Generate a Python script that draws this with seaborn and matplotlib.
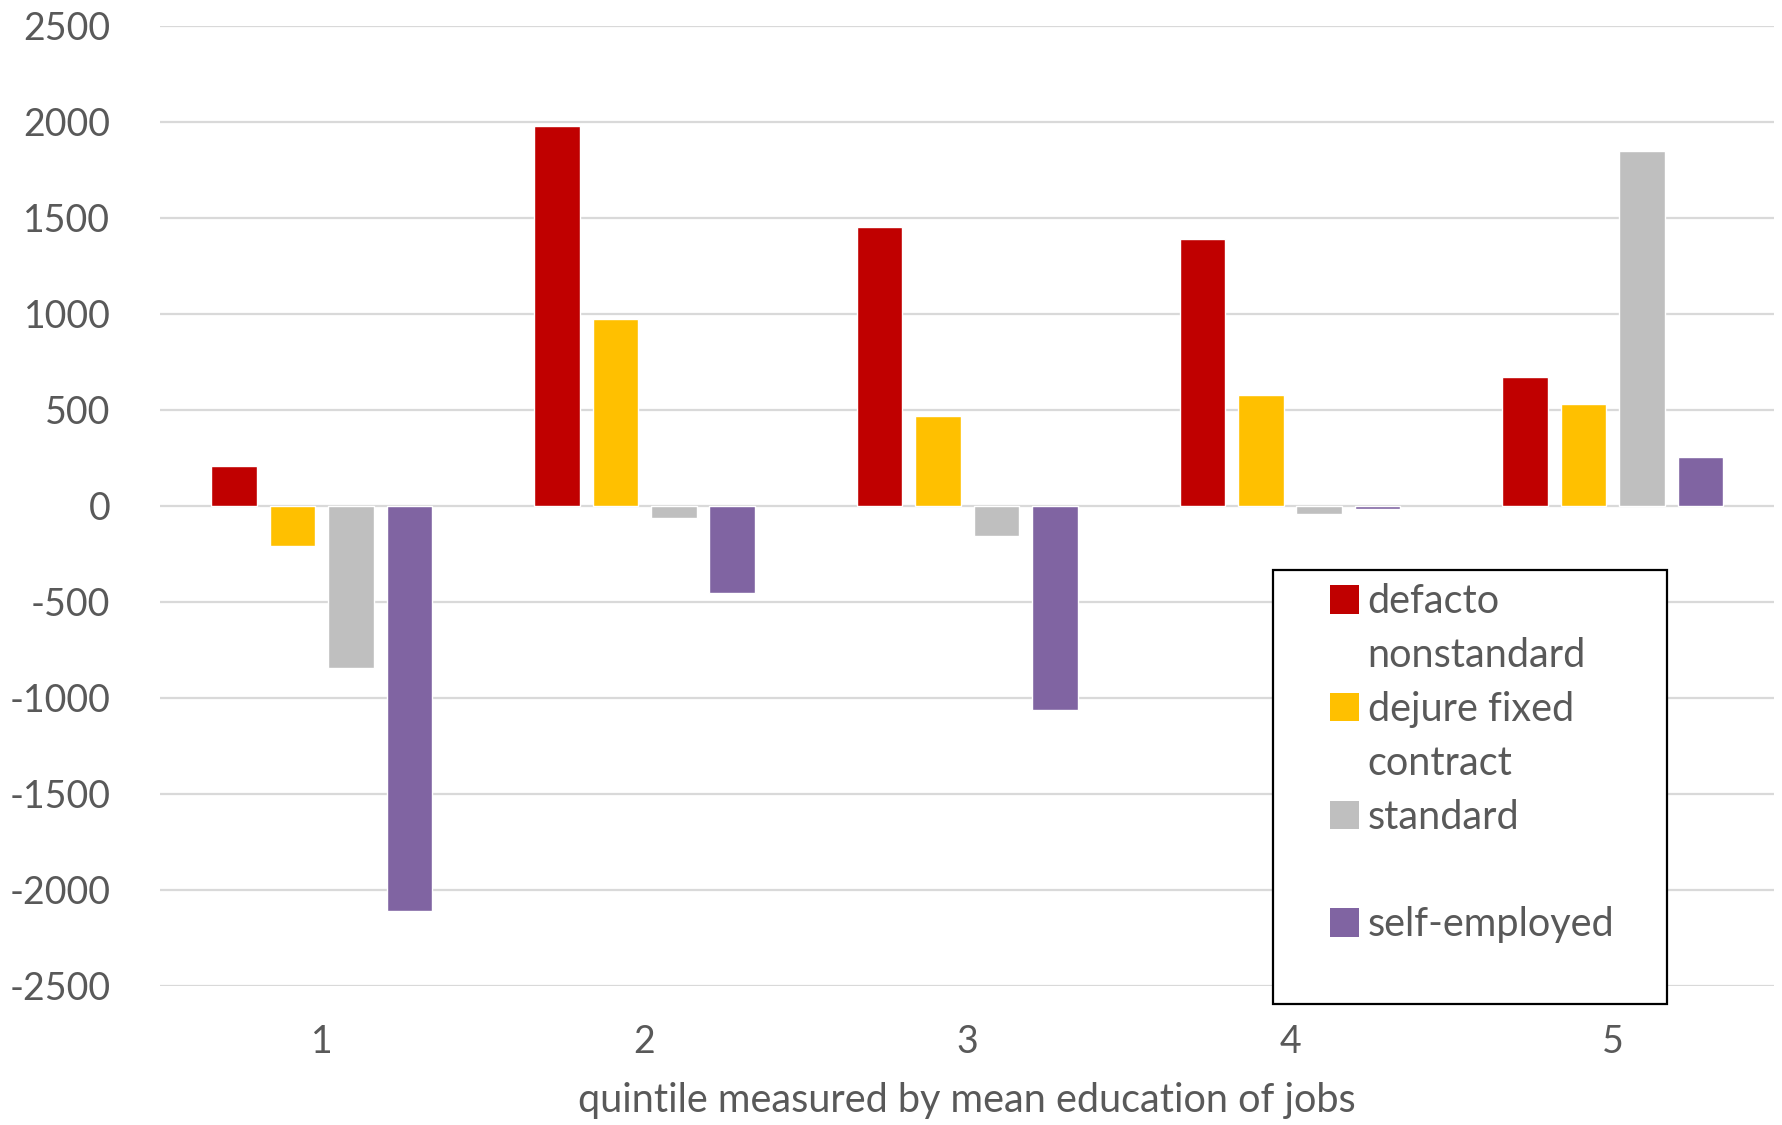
import pandas as pd
import seaborn as sns
import matplotlib.pyplot as plt
from matplotlib.patches import Patch, Rectangle

quintiles = ["1", "2", "3", "4", "5"]
series_names = ["defacto nonstandard", "dejure fixed contract", "standard", "self-employed"]
defacto = [207, 1978, 1454, 1392, 670]
dejure = [-211, 973, 467, 576, 530]
standard = [-844, -62, -156, -44, 1846]
self_employed = [-2110, -453, -1065, -16, 255]
colors = ["#C00000", "#FFC000", "#BFBFBF", "#8064A2"]
yticks = [-2500, -2000, -1500, -1000, -500, 0, 500, 1000, 1500, 2000, 2500]

sns.set_theme(style="white")
plt.rcParams["font.family"] = ["Lato", "DejaVu Sans"]
txt = "#595959"
fontsize = 27

rows = []
for name, vals in zip(series_names, [defacto, dejure, standard, self_employed]):
    for q, v in zip(quintiles, vals):
        rows.append({"quintile": q, "type": name, "value": v})
df = pd.DataFrame(rows)

fig = plt.figure(figsize=(17.83, 11.25), dpi=100)
ax = fig.add_axes([0.090, 0.124, 0.905, 0.853])

sns.barplot(data=df, x="quintile", y="value", hue="type", hue_order=series_names,
            palette=colors, width=0.724, gap=0.22, saturation=1, ax=ax, legend=False,
            zorder=3)

ax.set_ylim(-2500, 2500)
ax.set_xlim(-0.5, 4.5)
ax.set_yticks(yticks)
ax.set_yticklabels([str(t) for t in yticks])
ax.yaxis.grid(True, color="#D9D9D9", linewidth=1.6, zorder=0)
ax.set_axisbelow(True)
for s in ax.spines.values():
    s.set_visible(False)
ax.tick_params(axis="y", length=0, pad=36, labelsize=fontsize, labelcolor=txt)
ax.tick_params(axis="x", length=0, pad=28, labelsize=fontsize, labelcolor=txt)
ax.set_ylabel("")
ax.set_xlabel("quintile measured by mean education of jobs", fontsize=28.5,
              color=txt, va="center")
ax.xaxis.set_label_coords(0.5, -0.120)

# legend box
fig.patches.append(Rectangle((0.714, 0.108), 0.221, 0.385, transform=fig.transFigure,
                             facecolor="white", edgecolor="black", linewidth=1.6,
                             zorder=5))
blank = Patch(facecolor="none", edgecolor="none")
split = {"defacto nonstandard": ("defacto", "nonstandard"),
         "dejure fixed contract": ("dejure fixed", "contract"),
         "standard": ("standard", " "),
         "self-employed": ("self-employed", " ")}
handles, labels = [], []
for name, c in zip(series_names, colors):
    handles += [Patch(facecolor=c, edgecolor="none"), blank]
    labels += list(split[name])
leg = fig.legend(handles, labels, loc="upper left", bbox_to_anchor=(0.735, 0.499),
                 frameon=False, fontsize=28.5, labelcolor=txt,
                 handlelength=0.72, handleheight=0.72, handletextpad=0.22,
                 labelspacing=0.425, borderpad=0)
leg.set_zorder(6)

fig.savefig("out.png", dpi=100)
